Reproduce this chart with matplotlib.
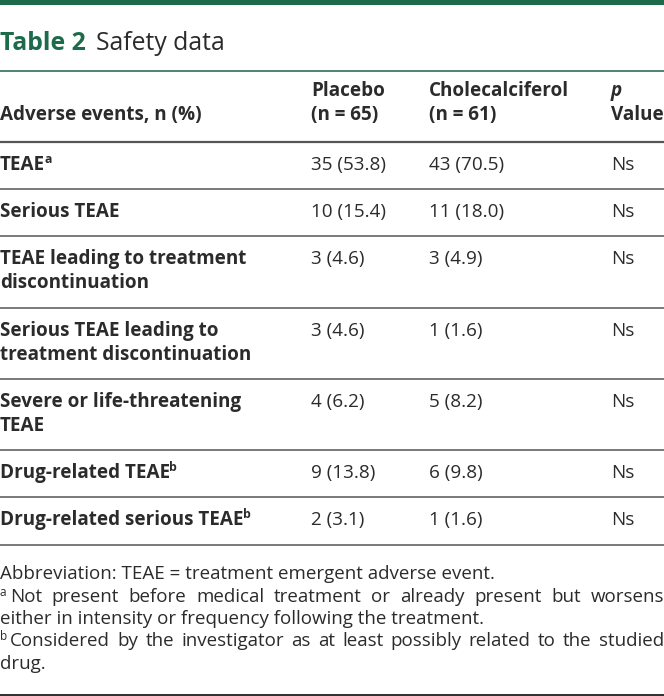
import matplotlib
matplotlib.use("Agg")
import matplotlib.pyplot as plt

# table content
title_bold = "Table 2"
title_rest = "Safety data"
col_headers = [["Adverse events, n (%)"], ["Placebo", "(n = 65)"],
               ["Cholecalciferol", "(n = 61)"], ["p", "Value"]]
row_labels = [["TEAE"], ["Serious TEAE"],
              ["TEAE leading to treatment", "discontinuation"],
              ["Serious TEAE leading to", "treatment discontinuation"],
              ["Severe or life-threatening", "TEAE"],
              ["Drug-related TEAE"], ["Drug-related serious TEAE"]]
row_sups = ["a", "", "", "", "", "b", "b"]
placebo = ["35 (53.8)", "10 (15.4)", "3 (4.6)", "3 (4.6)", "4 (6.2)", "9 (13.8)", "2 (3.1)"]
chole = ["43 (70.5)", "11 (18.0)", "3 (4.9)", "1 (1.6)", "5 (8.2)", "6 (9.8)", "1 (1.6)"]
pvals = ["Ns", "Ns", "Ns", "Ns", "Ns", "Ns", "Ns"]
footnotes = [
    ("", "Abbreviation: TEAE = treatment emergent adverse event.", False),
    ("a", "Not present before medical treatment or already present but worsens", True),
    ("", "either in intensity or frequency following the treatment.", False),
    ("b", "Considered by the investigator as at least possibly related to the studied", True),
    ("", "drug.", False),
]

GREEN = "#1e6b4c"
TEXT = "#2b2b2b"
FONT = "Open Sans"
FS = 13.6
FN = 13.5

W, H = 664, 696
fig = plt.figure(figsize=(W / 100, H / 100), dpi=100)
ax = fig.add_axes([0, 0, 1, 1])
ax.set_xlim(0, W)
ax.set_ylim(H, 0)
ax.axis("off")
fig.canvas.draw()
renderer = fig.canvas.get_renderer()


def width_px(t):
    return t.get_window_extent(renderer=renderer).width


def hline(y, color, lw):
    ax.plot([0, W], [y, y], color=color, lw=lw, solid_capstyle="butt")


# top bar and bottom bar
ax.fill_between([0, W], 0, 5, color=GREEN, lw=0)
ax.fill_between([0, W], 693.5, H, color="#333333", lw=0)

# title
t = ax.text(0, 50, title_bold, fontsize=17.8, fontweight="bold", color=GREEN,
            family=FONT, va="baseline")
ax.text(width_px(t) + 10, 50, title_rest, fontsize=17.8, color=TEXT,
        family=FONT, va="baseline")
hline(71, "#3f7a62", 1.3)

# header
col_x = [0, 311, 429, 611]
for ci, lines in enumerate(col_headers):
    ys = [120] if len(lines) == 1 else [96, 120]
    for li, (txt, y) in enumerate(zip(lines, ys)):
        style = "italic" if (ci == 3 and li == 0) else "normal"
        ax.text(col_x[ci], y, txt, fontsize=FS, fontweight="bold", color=TEXT,
                family=FONT, va="baseline", style=style)
hline(141.5, "#555555", 1.6)

# body rows
row_tops = [142, 189, 236, 308, 379, 450, 497, 545]
for i in range(len(row_labels)):
    y0 = row_tops[i] + 28
    for li, txt in enumerate(row_labels[i]):
        t = ax.text(0, y0 + li * 24, txt, fontsize=FS, fontweight="bold",
                    color=TEXT, family=FONT, va="baseline")
        if row_sups[i] and li == len(row_labels[i]) - 1:
            ax.text(width_px(t) - 1, y0 + li * 24 - 7, row_sups[i], fontsize=8.8,
                    fontweight="bold", color=TEXT, family=FONT, va="baseline")
    for cx, vals in zip(col_x[1:], [placebo, chole, pvals]):
        ax.text(cx, y0, vals[i], fontsize=FS, color=TEXT, family=FONT, va="baseline")
    hline(row_tops[i + 1], "#6e6e6e", 1.3)

# footnotes
fy = 579
for sup, txt, justify in footnotes:
    x = 0
    if sup:
        s = ax.text(0, fy - 6, sup, fontsize=8.5, color=TEXT, family=FONT, va="baseline")
        x = width_px(s) + 3
    if justify:
        words = txt.split()
        arts = [ax.text(0, fy, w, fontsize=FN, color=TEXT, family=FONT, va="baseline")
                for w in words]
        widths = [width_px(a) for a in arts]
        gap = (W - x - sum(widths)) / (len(words) - 1)
        cur = x
        for a, w in zip(arts, widths):
            a.set_x(cur)
            cur += w + gap
    else:
        ax.text(x, fy, txt, fontsize=FN, color=TEXT, family=FONT, va="baseline")
    fy += 22.5

fig.savefig("out.png", dpi=100)
